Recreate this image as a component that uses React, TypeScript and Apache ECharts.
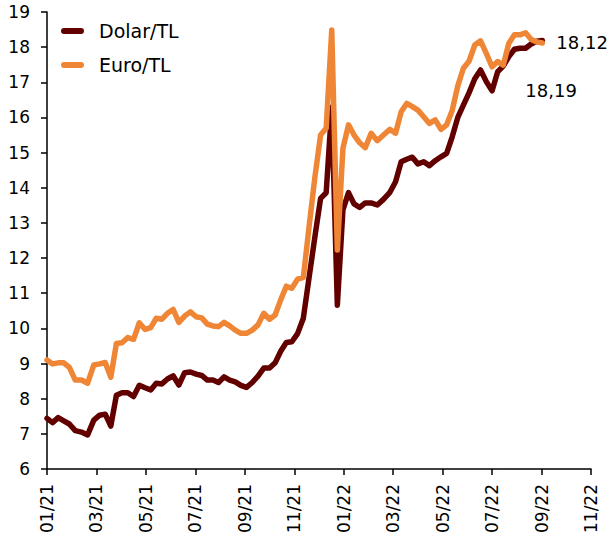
import React, { useEffect, useRef } from "react";
import * as echarts from "echarts";

// Weekly observations starting 2021-01-01 (Fridays)
const startDate = "2021-01-01";

const dolarTL = [
  7.44, 7.32, 7.46, 7.37, 7.28, 7.09, 7.05, 6.97, 7.39, 7.53, 7.56, 7.22, 8.10, 8.17, 8.17, 8.06,
  8.38, 8.31, 8.25, 8.44, 8.42, 8.56, 8.65, 8.39, 8.74, 8.76, 8.70, 8.66, 8.53, 8.53, 8.46, 8.62,
  8.53, 8.48, 8.38, 8.32, 8.46, 8.64, 8.87, 8.87, 9.02, 9.35, 9.60, 9.62, 9.85,
  10.29, 11.45, 12.6, 13.70, 13.86, 16.3, 10.66,
  13.37, 13.86, 13.54, 13.44, 13.57, 13.57, 13.51, 13.67, 13.86, 14.17, 14.74, 14.81, 14.87, 14.68,
  14.74, 14.63, 14.77, 14.88, 14.98, 15.45,
  16.0, 16.35, 16.7, 17.1, 17.35, 17.02, 16.76, 17.30, 17.46, 17.73, 17.94, 17.97, 17.97, 18.09,
  18.17, 18.19,
];

const euroTL = [
  9.10, 8.99, 9.02, 9.02, 8.89, 8.53, 8.53, 8.44, 8.96, 8.99, 9.03, 8.61, 9.57, 9.59, 9.74, 9.69,
  10.16, 9.97, 10.02, 10.29, 10.26, 10.43, 10.54, 10.17, 10.35, 10.47, 10.33, 10.30, 10.12, 10.07,
  10.05, 10.17, 10.07, 9.95, 9.86, 9.86, 9.95, 10.10, 10.43, 10.26, 10.38, 10.81, 11.20, 11.14, 11.40,
  11.45, 12.9, 14.3, 15.50, 15.69, 18.49, 12.23,
  15.12, 15.79, 15.50, 15.28, 15.14, 15.55, 15.34, 15.50, 15.66, 15.55, 16.16, 16.40, 16.31, 16.21,
  16.02, 15.83, 15.93, 15.66, 15.79, 16.2,
  16.9, 17.4, 17.6, 18.06, 18.18, 17.82, 17.44, 17.59, 17.49, 18.11, 18.35, 18.35, 18.41, 18.22,
  18.15, 18.12,
];

const seriesNames = ["Dolar/TL", "Euro/TL"];
const yTicks = { min: 6, max: 19, interval: 1 };
const xTicks = { min: 0, max: 22, interval: 2 }; // months since 01/2021

const DARK = "#620000";
const ORANGE = "#ef8636";
const FONT = "DejaVu Sans";

function monthIndex(d: Date): number {
  const y = d.getUTCFullYear();
  const m = d.getUTCMonth();
  const days = new Date(Date.UTC(y, m + 1, 0)).getUTCDate();
  return (y - 2021) * 12 + m + (d.getUTCDate() - 1) / days;
}

function weeklyX(n: number): number[] {
  const t0 = Date.parse(startDate + "T00:00:00Z");
  const out: number[] = [];
  for (let i = 0; i < n; i++) out.push(monthIndex(new Date(t0 + i * 7 * 86400000)));
  return out;
}

function fmtMonth(v: number): string {
  const m = (Math.round(v) % 12) + 1;
  const y = 21 + Math.floor(Math.round(v) / 12);
  return (m < 10 ? "0" + m : "" + m) + "/" + y;
}

const fmtVal = (v: number) => v.toFixed(2).replace(".", ",");

export default function App() {
  const ref = useRef<HTMLDivElement>(null);
  useEffect(() => {
    if (!ref.current) return;
    const chart = echarts.init(ref.current, undefined, { renderer: "svg" });
    const xs = weeklyX(dolarTL.length);
    const dolarData = dolarTL.map((v, i) => [xs[i], v]);
    const euroData = euroTL.map((v, i) => [xs[i], v]);
    const capsule = "path://M3,0 L20,0 A3,3 0 0 1 20,6 L3,6 A3,3 0 0 1 3,0 Z";
    chart.setOption({
      animation: false,
      textStyle: { fontFamily: FONT },
      grid: { left: 47, right: 22, top: 12, bottom: 79, containLabel: false },
      legend: {
        orient: "vertical",
        left: 56,
        top: 16,
        itemWidth: 23,
        itemHeight: 6,
        itemGap: 14,
        data: [
          { name: seriesNames[0], icon: capsule, itemStyle: { color: DARK } },
          { name: seriesNames[1], icon: capsule, itemStyle: { color: ORANGE } },
        ],
        textStyle: { fontFamily: FONT, fontSize: 19, color: "#000", lineHeight: 20, padding: [0, 0, 0, 10] },
      },
      xAxis: {
        type: "value",
        min: xTicks.min,
        max: xTicks.max,
        interval: xTicks.interval,
        splitLine: { show: false },
        axisLine: { show: true, onZero: false, lineStyle: { color: "#000", width: 1.5 } },
        axisTick: { show: true, length: 6, lineStyle: { color: "#000", width: 1.5 } },
        axisLabel: {
          rotate: 90,
          margin: 15,
          color: "#000",
          fontSize: 17,
          fontFamily: FONT,
          formatter: (v: number) => fmtMonth(v),
        },
      },
      yAxis: {
        type: "value",
        min: yTicks.min,
        max: yTicks.max,
        interval: yTicks.interval,
        splitLine: { show: false },
        axisLine: { show: true, lineStyle: { color: "#000", width: 1.5 } },
        axisTick: { show: true, length: 6, lineStyle: { color: "#000", width: 1.5 } },
        axisLabel: { margin: 17, color: "#000", fontSize: 17, fontFamily: FONT },
      },
      series: [
        {
          name: seriesNames[0],
          type: "line",
          data: dolarData,
          symbol: "none",
          lineStyle: { color: DARK, width: 5.5, cap: "round", join: "round" },
          itemStyle: { color: DARK },
          endLabel: {
            show: true,
            formatter: (p: any) => fmtVal(p.value[1]),
            color: "#000",
            fontSize: 18,
            fontFamily: FONT,
            offset: [-25, 50],
          },
        },
        {
          name: seriesNames[1],
          type: "line",
          data: euroData,
          symbol: "none",
          lineStyle: { color: ORANGE, width: 5.5, cap: "round", join: "round" },
          itemStyle: { color: ORANGE },
          endLabel: {
            show: true,
            formatter: (p: any) => fmtVal(p.value[1]),
            color: "#000",
            fontSize: 18,
            fontFamily: FONT,
            distance: 14,
            offset: [0, 0],
          },
        },
      ],
    });
    return () => chart.dispose();
  }, []);
  return (
    <div
      ref={ref}
      style={{ position: "absolute", left: 0, top: 0, width: 613, height: 548 }}
    />
  );
}
